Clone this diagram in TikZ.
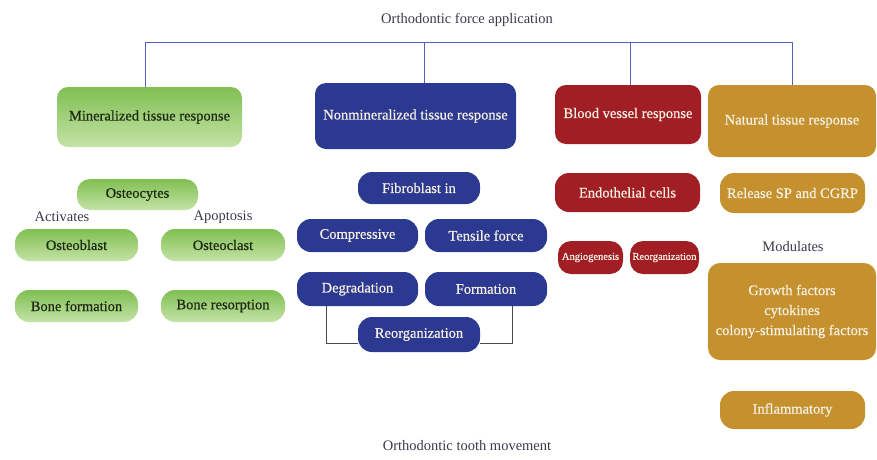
\documentclass[tikz,border=0pt]{standalone}
\usepackage{fontspec}
\setmainfont{Liberation Serif}
\newfontfamily\boxfont{Liberation Serif}[FakeBold=0.6]
\definecolor{gtop}{HTML}{80BF52}
\definecolor{gbot}{HTML}{C4E3A6}
\definecolor{gtext}{HTML}{1E2A14}
\definecolor{bluebox}{HTML}{2B3990}
\definecolor{redbox}{HTML}{A11F24}
\definecolor{goldbox}{HTML}{C4912E}
\definecolor{wtext}{HTML}{F6F0E2}
\definecolor{toplink}{HTML}{5262C2}
\definecolor{bracket}{HTML}{4A4A4A}
\definecolor{labtext}{HTML}{3A3A4A}
\tikzset{
  base/.style={rounded corners=11pt, inner sep=1pt, align=center,
    font=\boxfont\fontsize{14.5}{20}\selectfont},
  greenbox/.style={base, top color=gtop, bottom color=gbot, text=gtext},
  bluebx/.style={base, fill=bluebox, text=wtext},
  redbx/.style={base, fill=redbox, text=wtext},
  goldbx/.style={base, fill=goldbox, text=wtext},
  small/.style={font=\boxfont\fontsize{10.5}{12}\selectfont},
  lab/.style={text=labtext, font=\fontsize{14.5}{18}\selectfont, inner sep=0pt},
  toplk/.style={draw=toplink, line width=0.8pt},
  brk/.style={draw=bracket, line width=0.9pt}
}
\begin{document}
\begin{tikzpicture}[x=1pt,y=1pt]
\useasboundingbox (0,0) rectangle (877,-459);
% titles
\node[lab] (title) at (467,-20) {Orthodontic force application};
\node[lab] (bottom) at (467,-446) {Orthodontic tooth movement};
% main boxes
\node[greenbox, minimum width=185, minimum height=60] (mineral) at (149.5,-117) {Mineralized tissue response};
\node[bluebx, minimum width=201, minimum height=66] (nonmin) at (415.5,-116) {Nonmineralized tissue response};
\node[redbx, minimum width=146, minimum height=59] (blood) at (628,-114.5) {Blood vessel response};
\node[goldbx, minimum width=168, minimum height=72] (natural) at (792,-121) {Natural tissue response};
% top connectors
\coordinate (d1) at (145,-42);
\coordinate (d2) at (424,-42);
\coordinate (d3) at (630,-42);
\coordinate (d4) at (792,-42);
\draw[toplk] (d1 |- mineral.north) -- (d1) -- (d4) -- (d4 |- natural.north);
\draw[toplk] (d2) -- (d2 |- nonmin.north);
\draw[toplk] (d3) -- (d3 |- blood.north);
% mineralized column
\node[greenbox, rounded corners=13pt, minimum width=121, minimum height=31] (osteocytes) at (137.5,-194.5) {Osteocytes};
\node[lab] (activates) at (62,-217) {Activates};
\node[lab] (apoptosis) at (223,-217) {Apoptosis};
\node[greenbox, rounded corners=14pt, minimum width=123, minimum height=32] (osteoblast) at (76.5,-245) {Osteoblast};
\node[greenbox, rounded corners=14pt, minimum width=124, minimum height=32] (osteoclast) at (223,-245) {Osteoclast};
\node[greenbox, rounded corners=14pt, minimum width=123, minimum height=32] (boneform) at (76.5,-306) {Bone formation};
\node[greenbox, rounded corners=14pt, minimum width=124, minimum height=32] (boneres) at (223,-306) {Bone resorption};
% nonmineralized column
\node[bluebx, rounded corners=14pt, minimum width=122, minimum height=32] (fibro) at (419,-188) {Fibroblast in};
\node[bluebx, rounded corners=14pt, minimum width=121, minimum height=33] (compressive) at (357.5,-235.5) {Compressive};
\node[bluebx, rounded corners=14pt, minimum width=122, minimum height=33] (tensile) at (486,-235.5) {Tensile force};
\node[bluebx, rounded corners=14pt, minimum width=121, minimum height=34] (degradation) at (357.5,-289) {Degradation};
\node[bluebx, rounded corners=14pt, minimum width=122, minimum height=34] (formation) at (486,-289) {Formation};
\node[bluebx, rounded corners=14pt, minimum width=122, minimum height=35] (reorg) at (419,-334.5) {Reorganization};
\draw[brk] ([xshift=-31.5pt]degradation.south) |- ([yshift=-8.5pt]reorg.west);
\draw[brk] ([xshift=26pt]formation.south) |- ([yshift=-8.5pt]reorg.east);
% blood vessel column
\node[redbx, rounded corners=14pt, minimum width=145, minimum height=39] (endo) at (627.5,-192.5) {Endothelial cells};
\node[redbx, small, rounded corners=13pt, minimum width=65, minimum height=33] (angio) at (590.5,-257.5) {Angiogenesis};
\node[redbx, small, rounded corners=13pt, inner sep=0pt, minimum width=69, minimum height=33] (reorgb) at (664.5,-257.5) {Reorganization};
% natural tissue column
\node[goldbx, rounded corners=14pt, minimum width=145, minimum height=40] (release) at (792.5,-193) {Release SP and CGRP};
\node[lab] (modulates) at (793,-247) {Modulates};
\node[goldbx, rounded corners=12pt, minimum width=168, minimum height=97] (growth) at (792,-311.5) {Growth factors\\cytokines\\colony-stimulating factors};
\node[goldbx, rounded corners=14pt, minimum width=145, minimum height=38] (inflam) at (792.5,-410) {Inflammatory};
\end{tikzpicture}
\end{document}
